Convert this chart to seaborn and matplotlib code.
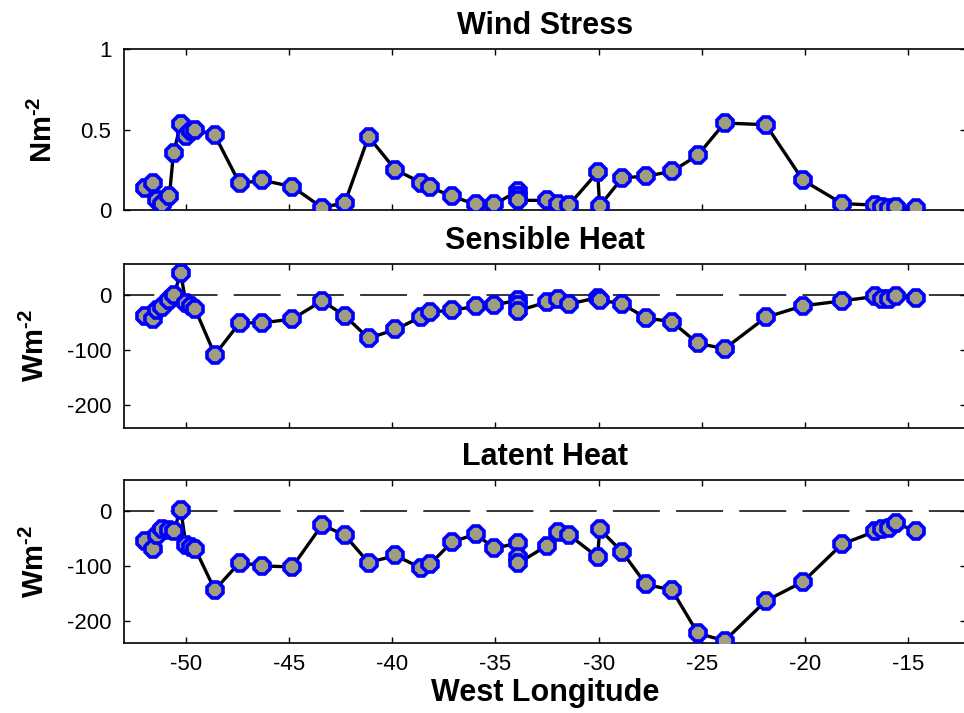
import matplotlib
matplotlib.use('Agg')
import matplotlib.pyplot as plt
import numpy as np
import pandas as pd
import seaborn as sns

# ---------------- data ----------------
lon = [-52.0, -51.6, -51.4, -51.15, -50.8, -50.6, -50.25, -50.0, -49.75, -49.55,
       -48.6, -47.4, -46.3, -44.85, -43.4, -42.3, -41.15, -39.85, -38.6, -38.15,
       -37.1, -35.95, -35.05, -33.9, -33.9, -33.9, -32.5, -31.95, -31.45, -30.05,
       -29.95, -28.85, -27.7, -26.45, -25.2, -23.9, -21.9, -20.1, -18.2, -16.6,
       -16.25, -15.95, -15.6, -14.6]

wind = [0.135, 0.17, 0.065, 0.04, 0.09, 0.355, 0.535, 0.46, 0.49, 0.50,
        0.465, 0.165, 0.185, 0.145, 0.015, 0.045, 0.455, 0.25, 0.17, 0.14,
        0.085, 0.035, 0.035, 0.12, 0.09, 0.06, 0.06, 0.04, 0.03, 0.235,
        0.025, 0.20, 0.21, 0.24, 0.34, 0.54, 0.53, 0.185, 0.04, 0.03,
        0.02, 0.015, 0.02, 0.015]

sensible = [-38, -43, -27, -21, -9, 0, 40, -14, -20, -25,
            -108, -50, -50, -43, -10, -37, -78, -62, -39, -30,
            -27, -20, -18, -8, -18, -28, -12, -7, -16, -4,
            -8, -16, -41, -48, -87, -97, -40, -19, -10, -2,
            -6, -7, -2, -5]

latent = [-55, -70, -43, -33, -34, -36, 3, -62, -66, -69,
          -144, -94, -100, -102, -25, -44, -94, -81, -104, -96,
          -56, -42, -68, -58, -83, -95, -63, -38, -43, -84,
          -33, -75, -134, -144, -223, -237, -164, -129, -60, -37,
          -33, -30, -22, -37]

titles = ['Wind Stress', 'Sensible Heat', 'Latent Heat']
ylabels = [r'Nm$^{\text{-2}}$', r'Wm$^{\text{-2}}$', r'Wm$^{\text{-2}}$']
xticks = [-50, -45, -40, -35, -30, -25, -20, -15]
wind_yticks = [0, 0.5, 1]
wind_yticklabels = ['0', '0.5', '1']
heat_yticks = [-200, -100, 0]
heat_yticklabels = ['-200', '-100', '0']
xlabel = 'West Longitude'

# ---------------- style ----------------
sns.set_style('ticks')
plt.rcParams['font.family'] = ['Liberation Sans', 'DejaVu Sans']
plt.rcParams['mathtext.fontset'] = 'custom'
plt.rcParams['mathtext.rm'] = 'Liberation Sans:bold'
plt.rcParams['mathtext.bf'] = 'Liberation Sans:bold'
plt.rcParams['axes.unicode_minus'] = False
plt.rcParams['text.color'] = 'black'
plt.rcParams['axes.labelcolor'] = 'black'
plt.rcParams['xtick.color'] = 'black'
plt.rcParams['ytick.color'] = 'black'

df = pd.DataFrame({'lon': lon, 'wind': wind, 'sensible': sensible, 'latent': latent})

W, H = 964, 713
fig = plt.figure(figsize=(W / 100, H / 100), dpi=100)
fig.patch.set_facecolor('white')

def rect(left, right, top, bottom):
    return [left / W, (H - bottom) / H, (right - left) / W, (bottom - top) / H]

rects = [rect(124, 966, 49, 210), rect(124, 966, 264, 428), rect(124, 966, 480, 643)]
cols = ['wind', 'sensible', 'latent']
ylims = [(0, 1), (-241, 57), (-241, 57)]
label_x = [-0.0780, -0.0880, -0.0880]

face = '#A19D7F'
lw0 = 1.1
for i, (r, col) in enumerate(zip(rects, cols)):
    ax = fig.add_axes(r)
    if i > 0:
        ax.axhline(0, color='black', lw=lw0, zorder=1,
                   linestyle=(12.0 / lw0, (33.8 / lw0, 11.7 / lw0)),
                   dash_capstyle='butt')
    sns.lineplot(data=df, x='lon', y=col, ax=ax, estimator=None, sort=False,
                 color='black', lw=2.4, marker='8', markersize=12.2,
                 markerfacecolor=face, markeredgecolor='#0000FF',
                 markeredgewidth=2.6, zorder=3)
    ax.set_xlim(-53, -12.2)
    ax.set_ylim(*ylims[i])
    ax.set_xticks(xticks)
    if i == 0:
        ax.set_yticks(wind_yticks)
        ax.set_yticklabels(wind_yticklabels)
    else:
        ax.set_yticks(heat_yticks)
        ax.set_yticklabels(heat_yticklabels)
    ax.tick_params(direction='in', top=True, right=True, length=4.5, width=1.0,
                   labelsize=16, colors='black')
    ax.tick_params(axis='y', pad=9)
    ax.tick_params(axis='x', pad=8)
    if i < 2:
        ax.tick_params(labelbottom=False)
        ax.set_xlabel('')
    else:
        ax.set_xlabel(xlabel, fontsize=22, fontweight='bold', labelpad=2)
    for s in ax.spines.values():
        s.set_linewidth(1.2)
        s.set_color('black')
    ax.set_title(titles[i], fontsize=22, fontweight='bold', pad=11, color='black')
    ax.set_ylabel(ylabels[i], fontsize=21, fontweight='bold')
    ax.yaxis.set_label_coords(label_x[i], 0.5)
    ax.set_facecolor('white')

fig.savefig('out.png', dpi=100, facecolor='white')
